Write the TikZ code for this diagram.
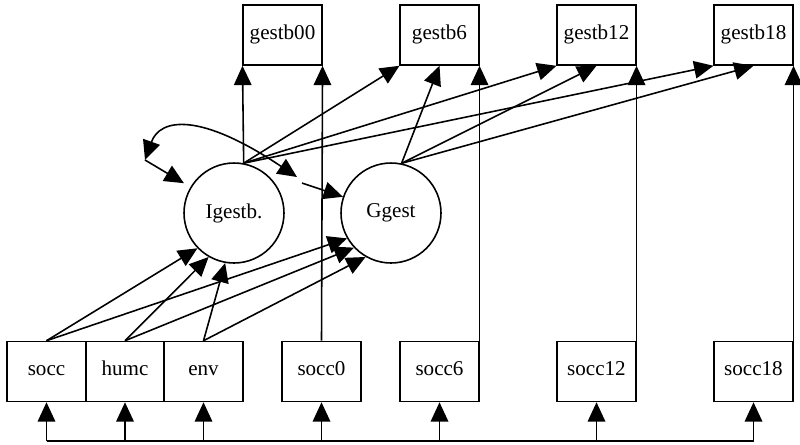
\documentclass[tikz,border=0pt]{standalone}
\usepackage{fontspec}
\setmainfont{Liberation Serif}
\usetikzlibrary{arrows.meta}
\tikzset{
  obs/.style={draw, line width=0.9pt, minimum width=1.57cm, minimum height=1.2cm, inner sep=0pt, text height=1.6ex, text depth=0.5ex, font=\fontsize{12}{14}\selectfont},
  lat/.style={draw, circle, line width=0.9pt, minimum size=2cm, inner sep=0pt, font=\fontsize{12}{14}\selectfont},
  reg/.style={line width=0.9pt, -{Triangle[length=11pt,width=10pt]}},
  tip/.tip={Triangle[length=11pt,width=10pt]}
}

\begin{document}
\begin{tikzpicture}[x=0.02cm, y=-0.02cm]
        \useasboundingbox (0,0) rectangle (800,444);
        % top row
        \node[obs] (gestb00) at (282.5,35) {gestb00};
        \node[obs] (gestb6) at (439.5,35) {gestb6};
        \node[obs] (gestb12) at (596.5,35) {gestb12};
        \node[obs] (gestb18) at (753.5,35) {gestb18};
        % latent
        \node[lat] (Igestb) at (234,213) {Igestb.};
        \node[lat] (Ggest) at (391,213) {Ggest};
        % bottom row
        \node[obs] (socc) at (46.5,371.5) {socc};
        \node[obs] (humc) at (125,371.5) {humc};
        \node[obs] (env) at (203.5,371.5) {env};
        \node[obs] (socc0) at (321.5,371.5) {socc0};
        \node[obs] (socc6) at (439.5,371.5) {socc6};
        \node[obs] (socc12) at (596.5,371.5) {socc12};
        \node[obs] (socc18) at (753.5,371.5) {socc18};
        \coordinate (bus) at (0,441);
        \coordinate (covL) at (145,160);
        \coordinate (covM) at (297,177);
        \coordinate (covN) at (302,183);

        % intercept
        \draw[reg] (Igestb.79) -- (gestb00.south west);
        \draw[reg] (Igestb.79) -- (gestb6.south west);
        \draw[reg] (Igestb.79) -- (gestb12.south west);
        \draw[reg] (Igestb.79) -- (gestb18.south west);
        % slope
        \draw[reg] (Ggest.78) -- (gestb6.south);
        \draw[reg] (Ggest.78) -- (gestb12.south);
        \draw[reg] (Ggest.78) -- (gestb18.south);
        % covariates
        \foreach \v/\a/\b in {socc/224/210, humc/240/223, env/260/240} {
          \draw[reg] (\v.north) -- (Igestb.\a);
          \draw[reg] (\v.north) -- (Ggest.\b);
        }
        % time varying
        \draw[reg] (socc0.north) -- (gestb00.south east);
        \draw[reg] (socc6.north east) -- (gestb6.south east);
        \draw[reg] (socc12.north east) -- (gestb12.south east);
        \draw[reg] (socc18.north east) -- (gestb18.south east);
        % bus
        \draw[line width=0.9pt] (socc.south |- bus) -- (socc18.south |- bus);
        \foreach \v in {socc,humc,env,socc0,socc6,socc12,socc18}
          \draw[reg] (\v.south |- bus) -- (\v.south);
        % covariance
        \draw[line width=0.9pt, tip-tip] (covL) .. controls (160,118) and (200,112) .. (covM);
        \draw[reg, shorten >=1.5mm] (covL) -- (Igestb);
        \draw[reg] (covN) -- (Ggest);

    \end{tikzpicture}
\end{document}
